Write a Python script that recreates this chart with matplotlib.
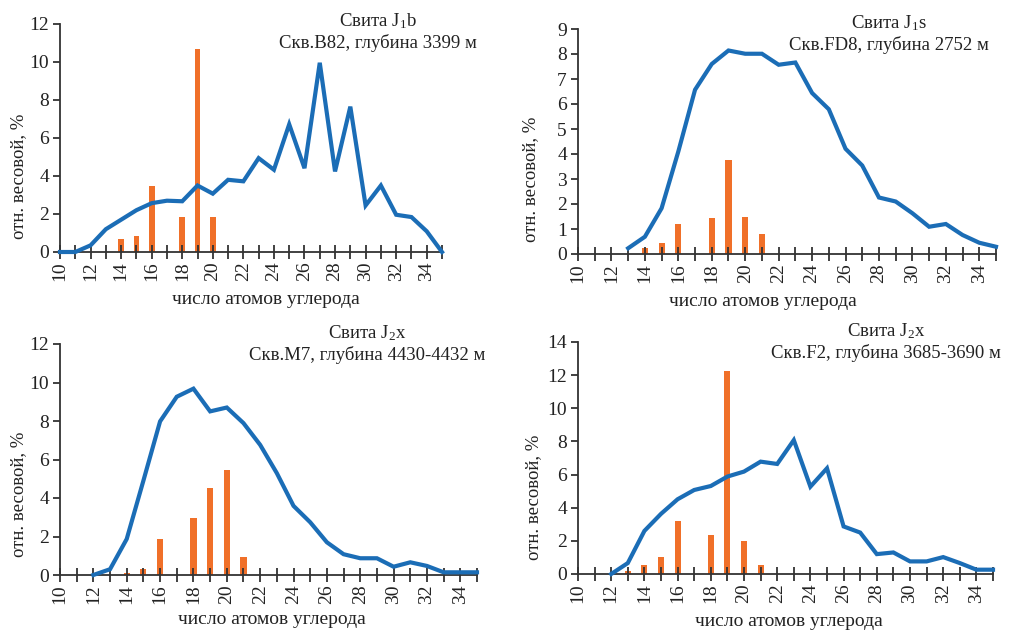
import matplotlib
matplotlib.use("Agg")
import matplotlib.pyplot as plt
import numpy as np

plt.rcParams['font.family'] = ['Liberation Serif', 'DejaVu Serif']
plt.rcParams['mathtext.fontset'] = 'custom'
plt.rcParams['mathtext.rm'] = 'Liberation Serif'
plt.rcParams['mathtext.it'] = 'Liberation Serif:italic'

# ---- data ----
x_line1 = list(range(10, 36))
line1 = [0, 0, 0.35, 1.2, 1.7, 2.2, 2.57, 2.7, 2.67, 3.5, 3.07, 3.8, 3.72, 4.94,
         4.33, 6.72, 4.41, 9.96, 4.24, 7.65, 2.45, 3.5, 1.96, 1.84, 1.09, 0]
x_bar1 = [14, 15, 16, 18, 19, 20]
bar1 = [0.68, 0.86, 3.48, 1.82, 10.68, 1.82]

x_line2 = list(range(13, 36))
line2 = [0.23, 0.69, 1.83, 4.1, 6.57, 7.6, 8.14, 8.01, 8.01, 7.57, 7.66, 6.44,
         5.79, 4.21, 3.54, 2.26, 2.1, 1.63, 1.09, 1.2, 0.76, 0.45, 0.29]
x_bar2 = [14, 15, 16, 18, 19, 20, 21]
bar2 = [0.23, 0.45, 1.19, 1.43, 3.77, 1.5, 0.79]

x_line3 = list(range(12, 36))
line3 = [0.0, 0.3, 1.87, 4.9, 7.98, 9.26, 9.68, 8.5, 8.7, 7.89, 6.76, 5.29,
         3.59, 2.74, 1.7, 1.08, 0.87, 0.87, 0.43, 0.66, 0.47, 0.14, 0.14, 0.14]
x_bar3 = [14, 15, 16, 18, 19, 20, 21]
bar3 = [0.12, 0.31, 1.87, 2.95, 4.5, 5.44, 0.94]

x_line4 = list(range(12, 36))
line4 = [0.0, 0.66, 2.6, 3.63, 4.51, 5.07, 5.31, 5.88, 6.18, 6.78, 6.64, 8.08,
         5.27, 6.38, 2.87, 2.5, 1.2, 1.3, 0.76, 0.76, 1.02, 0.66, 0.26, 0.26]
x_bar4 = [13, 14, 15, 16, 18, 19, 20, 21]
bar4 = [0.16, 0.52, 1.0, 3.21, 2.37, 12.23, 1.97, 0.52]

titles = [("Свита J$_1$b", "Скв.B82, глубина 3399 м"),
          ("Свита J$_1$s", "Скв.FD8, глубина 2752 м"),
          ("Свита J$_2$x", "Скв.M7, глубина 4430-4432 м"),
          ("Свита J$_2$x", "Скв.F2, глубина 3685-3690 м")]
ymaxes = [12, 9, 12, 14]
ysteps = [2, 1, 2, 2]
xticks_labels = list(range(10, 35, 2))
xlabel = "число атомов углерода"
ylabel = "отн. весовой, %"

# ---- layout (pixels) ----
W, H = 1012, 630
# left, right, y0(bottom), ytop
boxes = [(60, 442, 252, 24), (578, 996, 254, 29), (60, 477, 575, 344), (578, 993, 574, 342)]
title_pos = [(378, 21, 43), (889, 23, 45), (367, 333, 355), (886, 331, 353)]
xlabel_pos = [(266, 300), (763, 301), (272, 620), (789, 621)]
ylabel_pos = [(19, 176), (531, 179), (19, 494), (534, 497)]

BLUE = '#1B6DB6'
ORANGE = '#F07029'
AXC = '#333333'

fig = plt.figure(figsize=(W / 100, H / 100), dpi=100)

data = [(x_line1, line1, x_bar1, bar1), (x_line2, line2, x_bar2, bar2),
        (x_line3, line3, x_bar3, bar3), (x_line4, line4, x_bar4, bar4)]

for i, (xl, yl, xb, yb) in enumerate(data):
    l, r, b, t = boxes[i]
    ax = fig.add_axes([l / W, 1 - b / H, (r - l) / W, (b - t) / H])
    ax.bar(xb, yb, width=0.37, color=ORANGE, zorder=1)
    ax.plot(xl, yl, color=BLUE, lw=3.0, zorder=3, clip_on=False, solid_joinstyle='miter')
    ax.set_xlim(10, 35)
    ax.set_ylim(0, ymaxes[i])
    ax.set_yticks(np.arange(0, ymaxes[i] + 0.01, ysteps[i]))
    ax.set_yticklabels([str(int(v)) for v in np.arange(0, ymaxes[i] + 0.01, ysteps[i])])
    ax.set_xticks(range(10, 36))
    ax.set_xticklabels([str(v) if v in xticks_labels else '' for v in range(10, 36)],
                       rotation=90)
    for s in ['top', 'right']:
        ax.spines[s].set_visible(False)
    for s in ['left', 'bottom']:
        ax.spines[s].set_color(AXC)
        ax.spines[s].set_linewidth(1.3)
    ax.tick_params(axis='x', direction='inout', length=10, width=1.3, color=AXC,
                   labelsize=14, pad=2, labelcolor='#222222')
    ax.tick_params(axis='y', direction='out', length=5, width=1.3, color=AXC,
                   labelsize=14, pad=3, labelcolor='#222222')
    ax.patch.set_alpha(0)

    tx, ty1, ty2 = title_pos[i]
    fig.text(tx / W, 1 - ty1 / H, titles[i][0], ha='center', va='center',
             fontsize=13.5, color='#222222')
    fig.text(tx / W, 1 - ty2 / H, titles[i][1], ha='center', va='center',
             fontsize=13.5, color='#222222')
    xx, xy = xlabel_pos[i]
    fig.text(xx / W, 1 - xy / H, xlabel, ha='center', va='center',
             fontsize=14, color='#222222')
    yx, yy = ylabel_pos[i]
    fig.text(yx / W, 1 - yy / H, ylabel, ha='center', va='center',
             rotation=90, fontsize=13.5, color='#222222')

fig.savefig('out.png', dpi=100, facecolor='white')
